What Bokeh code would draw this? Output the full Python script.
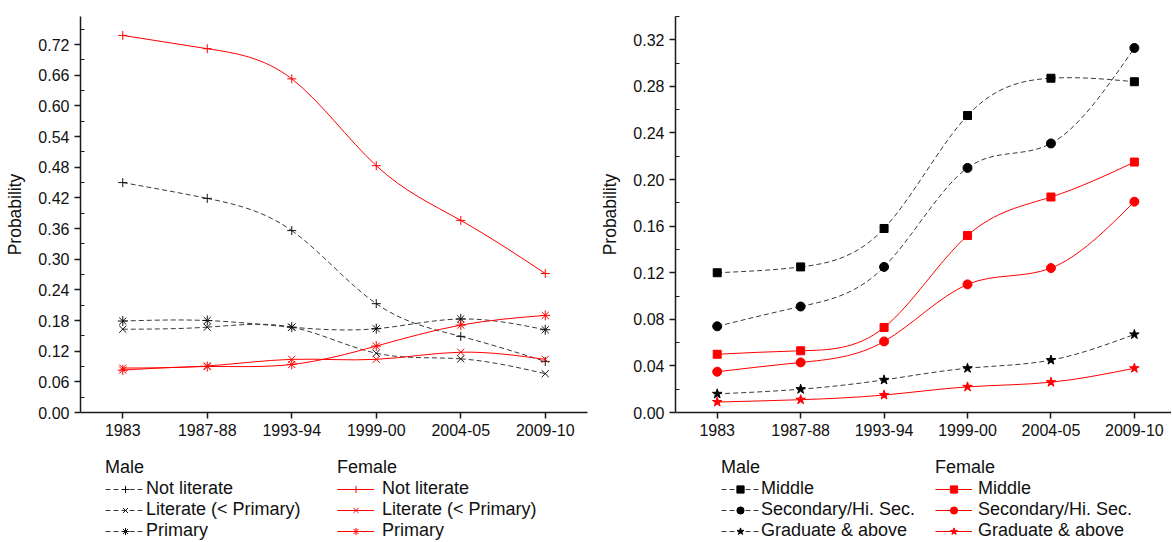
import numpy as np
from bokeh.plotting import figure
from bokeh.models import (ColumnDataSource, FixedTicker, PrintfTickFormatter,
                          Legend, LegendItem, Range1d)
from bokeh.layouts import row, column
from bokeh.embed import file_html
from bokeh.resources import INLINE

# ---------------- data ----------------
periods = ["1983", "1987-88", "1993-94", "1999-00", "2004-05", "2009-10"]

# left panel (literacy levels)
male_not_literate = [0.450, 0.419, 0.356, 0.213, 0.149, 0.100]
male_literate = [0.163, 0.167, 0.167, 0.116, 0.105, 0.076]
male_primary = [0.179, 0.180, 0.167, 0.164, 0.183, 0.162]
female_not_literate = [0.738, 0.712, 0.653, 0.483, 0.376, 0.272]
female_literate = [0.087, 0.091, 0.104, 0.104, 0.118, 0.104]
female_primary = [0.083, 0.090, 0.094, 0.130, 0.171, 0.190]

# right panel (higher education levels)
male_middle = [0.120, 0.125, 0.158, 0.255, 0.287, 0.284]
male_secondary = [0.074, 0.091, 0.125, 0.210, 0.231, 0.313]
male_graduate = [0.016, 0.020, 0.028, 0.038, 0.045, 0.067]
female_middle = [0.050, 0.053, 0.073, 0.152, 0.185, 0.215]
female_secondary = [0.035, 0.043, 0.061, 0.110, 0.124, 0.181]
female_graduate = [0.009, 0.011, 0.015, 0.022, 0.026, 0.038]

left_major_ticks = [0.00, 0.06, 0.12, 0.18, 0.24, 0.30, 0.36, 0.42, 0.48, 0.54, 0.60, 0.66, 0.72]
left_minor_ticks = [0.03, 0.09, 0.15, 0.21, 0.27, 0.33, 0.39, 0.45, 0.51, 0.57, 0.63, 0.69, 0.75]
right_major_ticks = [0.00, 0.04, 0.08, 0.12, 0.16, 0.20, 0.24, 0.28, 0.32]
right_minor_ticks = [0.02, 0.06, 0.10, 0.14, 0.18, 0.22, 0.26, 0.30, 0.34]

left_labels = ["Not literate", "Literate (< Primary)", "Primary"]
right_labels = ["Middle", "Secondary/Hi. Sec.", "Graduate & above"]

# ---------------- styles ----------------
FONT = "Liberation Sans"
MALE_LINE = "#3a3a3a"
MALE_MARK = "#111111"
RED = "#ff0000"
DASH = "5 3"


def spline_segments(ys):
    """Bezier control points of a natural cubic spline through the points."""
    y = np.asarray(ys, dtype=float)
    n = len(y)
    A = np.zeros((n, n))
    b = np.zeros(n)
    A[0, 0], A[0, 1], b[0] = 2, 1, 3 * (y[1] - y[0])
    A[-1, -2], A[-1, -1], b[-1] = 1, 2, 3 * (y[-1] - y[-2])
    for i in range(1, n - 1):
        A[i, i - 1], A[i, i], A[i, i + 1] = 1, 4, 1
        b[i] = 3 * (y[i + 1] - y[i - 1])
    d = np.linalg.solve(A, b)
    x = np.arange(n, dtype=float)
    return dict(x0=x[:-1], y0=y[:-1], x1=x[1:], y1=y[1:],
                cx0=x[:-1] + 1 / 3, cy0=y[:-1] + d[:-1] / 3,
                cx1=x[1:] - 1 / 3, cy1=y[1:] - d[1:] / 3)


def make_chart(y_end, major, minor, width, b_left, b_right, x_end):
    p = figure(width=width, height=442, output_backend="svg", toolbar_location=None,
               x_range=Range1d(-0.5, x_end), y_range=Range1d(0, y_end),
               min_border_left=b_left, min_border_right=b_right,
               min_border_top=16, min_border_bottom=30)
    p.outline_line_color = None
    p.xgrid.visible = False
    p.ygrid.visible = False
    p.xaxis.ticker = FixedTicker(ticks=list(range(len(periods))))
    p.xaxis.major_label_overrides = {i: s for i, s in enumerate(periods)}
    p.yaxis.ticker = FixedTicker(ticks=major, minor_ticks=minor)
    p.yaxis.formatter = PrintfTickFormatter(format="%.2f")
    p.yaxis.axis_label = "Probability"
    for ax in (p.xaxis[0], p.yaxis[0]):
        ax.axis_line_width = 1.5
        ax.axis_line_color = "#1a1a1a"
        ax.major_tick_line_width = 1.5
        ax.major_tick_line_color = "#1a1a1a"
        ax.major_tick_out = 6
        ax.major_tick_in = 0
        ax.minor_tick_line_width = 1.2
        ax.minor_tick_line_color = "#1a1a1a"
        ax.minor_tick_out = 0
        ax.minor_tick_in = 4
        ax.major_label_text_font = FONT
        ax.major_label_text_font_size = "16px"
        ax.major_label_text_color = "#111111"
        ax.major_label_standoff = 5
        ax.axis_label_text_font = FONT
        ax.axis_label_text_font_size = "17.5px"
        ax.axis_label_text_font_style = "normal"
        ax.axis_label_text_color = "#111111"
        ax.axis_label_standoff = 10
    p.xaxis.minor_tick_line_color = None
    return p


def add_series(p, ys, color, dash, marker, size, mark_color, fill=True):
    p.bezier(x0="x0", y0="y0", x1="x1", y1="y1", cx0="cx0", cy0="cy0",
             cx1="cx1", cy1="cy1", source=ColumnDataSource(spline_segments(ys)),
             line_color=color, line_width=1, line_dash=dash)
    src = ColumnDataSource(dict(x=list(range(len(periods))), y=ys))
    p.scatter(x="x", y="y", source=src, marker=marker, size=size,
              line_color=mark_color, line_width=1,
              fill_color=mark_color if fill else None)


def make_legend_fig(width, b_left, b_right, groups):
    # legend-only panel; its renderers hold a single placeholder point kept
    # outside the visible range so that only the legend swatches show
    lf = figure(width=width, height=99, output_backend="svg", toolbar_location=None,
                x_range=Range1d(0, 1), y_range=Range1d(0, 1),
                x_axis_type=None, y_axis_type=None, min_border=0,
                min_border_left=b_left, min_border_right=b_right)
    lf.outline_line_color = None
    for title, entries, xpos, gw, standoff in groups:
        items = []
        for label, color, dash, marker, mcolor in entries:
            lr = lf.line(x=[-5, -4], y=[-5, -5], line_color=color, line_dash=dash, line_width=1)
            sr = lf.scatter(x=[-5], y=[-5], marker=marker, line_color=mcolor,
                            fill_color=mcolor, line_width=1)
            items.append(LegendItem(label=label, renderers=[lr, sr]))
        leg = Legend(items=items, title=title, location=(xpos, 0),
                     border_line_color=None, background_fill_alpha=0,
                     padding=0, margin=0, spacing=0,
                     glyph_width=gw, glyph_height=18, label_height=18,
                     label_standoff=standoff,
                     label_text_font=FONT, label_text_font_size="18px",
                     label_text_color="#111111",
                     title_text_font=FONT, title_text_font_size="18px",
                     title_text_font_style="normal", title_text_color="#111111",
                     title_standoff=0)
        lf.add_layout(leg)
    return lf


# ---------------- left chart ----------------
p1 = make_chart(0.775, left_major_ticks, left_minor_ticks, 597, 80, 10, 5.5)
add_series(p1, male_not_literate, MALE_LINE, DASH, "cross", 9, MALE_MARK, False)
add_series(p1, male_literate, MALE_LINE, DASH, "x", 10, MALE_MARK, False)
add_series(p1, male_primary, MALE_LINE, DASH, "asterisk", 10, MALE_MARK, False)
add_series(p1, female_not_literate, RED, "solid", "cross", 9, RED, False)
add_series(p1, female_literate, RED, "solid", "x", 10, RED, False)
add_series(p1, female_primary, RED, "solid", "asterisk", 10, RED, False)

left_markers = ["cross", "x", "asterisk"]
l1 = make_legend_fig(597, 80, 10, [
    ("Male", [(lab, MALE_LINE, DASH, m, MALE_MARK) for lab, m in zip(left_labels, left_markers)], 25, 40, 1),
    ("Female", [(lab, RED, "solid", m, RED) for lab, m in zip(left_labels, left_markers)], 257, 37, 8),
])

# ---------------- right chart ----------------
p2 = make_chart(0.34, right_major_ticks, right_minor_ticks, 574, 74, 0, 5.445)
add_series(p2, male_middle, MALE_LINE, DASH, "square", 8, "#000000")
add_series(p2, male_secondary, MALE_LINE, DASH, "circle", 9, "#000000")
add_series(p2, male_graduate, MALE_LINE, DASH, "star", 10, "#000000")
add_series(p2, female_middle, RED, "solid", "square", 8, RED)
add_series(p2, female_secondary, RED, "solid", "circle", 9, RED)
add_series(p2, female_graduate, RED, "solid", "star", 10, RED)

right_markers = ["square", "circle", "star"]
l2 = make_legend_fig(574, 74, 0, [
    ("Male", [(lab, MALE_LINE, DASH, m, "#000000") for lab, m in zip(right_labels, right_markers)], 46, 38, 2),
    ("Female", [(lab, RED, "solid", m, RED) for lab, m in zip(right_labels, right_markers)], 260, 37, 6),
])

layout = row(column(p1, l1), column(p2, l2))

with open("out.html", "w") as f:
    f.write(file_html(layout, INLINE))
